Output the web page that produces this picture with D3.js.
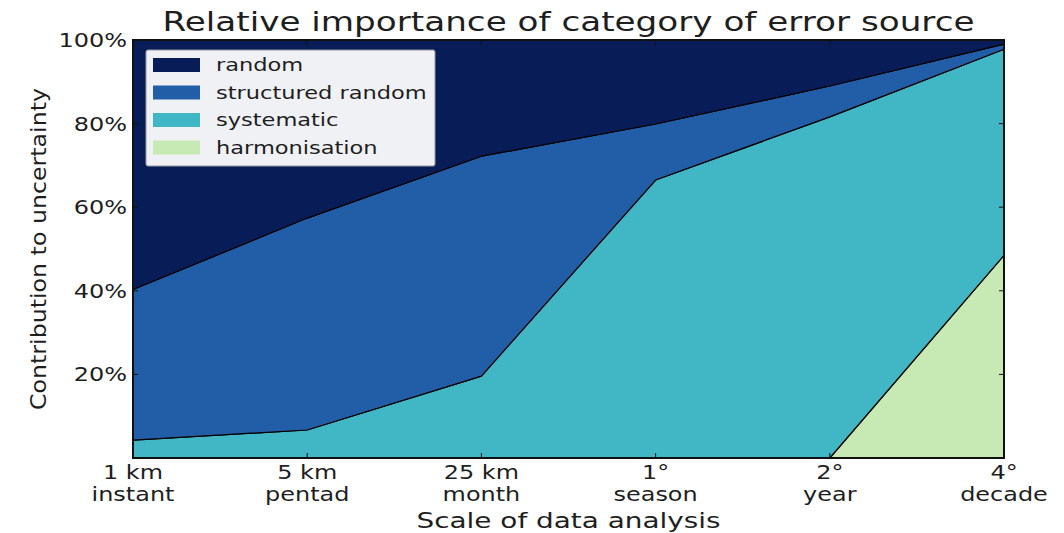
<!DOCTYPE html>
<html>
<head>
<meta charset="utf-8">
<script src="https://cdn.jsdelivr.net/npm/d3@7"></script>
<style>
  body { margin: 0; background: #fff; }
  svg text { font-family: "DejaVu Sans", sans-serif; fill: #1e1e1e; }
</style>
</head>
<body>
<svg id="graphe" width="1064" height="533"></svg>
<script>
// Données (en %)
const echelles = ["1 km", "5 km", "25 km", "1°", "2°", "4°"]
const periodes = ["instant", "pentad", "month", "season", "year", "decade"]
const harmonisation = [0, 0, 0, 0, 0, 48.5]
const systematique = [4.3, 6.7, 19.6, 66.5, 81.6, 49.3]
const aleatoireStructure = [36.0, 50.7, 52.6, 13.4, 7.4, 1.2]
const aleatoire = [59.7, 42.6, 27.8, 20.1, 11.0, 1.0]
const ticksY = [20, 40, 60, 80, 100]

const series = [
    { nom: "harmonisation", valeurs: harmonisation, couleur: "#c7e9b4" },
    { nom: "systematic", valeurs: systematique, couleur: "#41b6c4" },
    { nom: "structured random", valeurs: aleatoireStructure, couleur: "#225ea8" },
    { nom: "random", valeurs: aleatoire, couleur: "#081d58" }
]

const marge = { gauche: 133, droite: 1004, haut: 40, bas: 458 }
const etirement = 1.2 // le texte de l'image d'origine est étiré horizontalement
const svg = d3.select("#graphe")

const x = d3.scaleLinear().domain([0, echelles.length - 1]).range([marge.gauche, marge.droite])
const y = d3.scaleLinear().domain([0, 100]).range([marge.bas, marge.haut])

// petit utilitaire pour poser un texte étiré
function texte(parent, px, py, contenu, taille, ancre, sx){
    return parent.append("text")
        .attr("transform", "translate(" + px + "," + py + ") scale(" + (sx || etirement) + ",1)")
        .attr("text-anchor", ancre)
        .style("font-size", taille + "px")
        .text(contenu)
}

// Empilement
const table = echelles.map((e, i) => {
    const ligne = { i: i }
    series.forEach(s => { ligne[s.nom] = s.valeurs[i] })
    return ligne
})
const pile = d3.stack().keys(series.map(s => s.nom))(table)

const aire = d3.area()
    .x(d => x(d.data.i))
    .y0(d => y(d[0]))
    .y1(d => y(d[1]))

svg.selectAll("path.couche")
    .data(pile)
    .enter().append("path")
    .attr("class", "couche")
    .attr("d", aire)
    .attr("fill", (d, i) => series[i].couleur)
    .attr("stroke", "#000")
    .attr("stroke-width", 1.2)
    .attr("stroke-linejoin", "round")

// Cadre
svg.append("rect")
    .attr("x", marge.gauche).attr("y", marge.haut)
    .attr("width", marge.droite - marge.gauche)
    .attr("height", marge.bas - marge.haut)
    .attr("fill", "none").attr("stroke", "#111").attr("stroke-width", 2)

// Axe Y
const axeY = svg.append("g")
ticksY.forEach(t => {
    axeY.append("line")
        .attr("x1", marge.gauche).attr("x2", marge.gauche + 5)
        .attr("y1", y(t)).attr("y2", y(t))
        .attr("stroke", "#111")
    axeY.append("line")
        .attr("x1", marge.droite - 5).attr("x2", marge.droite)
        .attr("y1", y(t)).attr("y2", y(t))
        .attr("stroke", "#111")
    texte(axeY, marge.gauche - 6, y(t) + 7, t + "%", 20, "end")
})

// Axe X : échelle spatiale puis temporelle, sur deux lignes
const axeX = svg.append("g")
echelles.forEach((e, i) => {
    axeX.append("line")
        .attr("x1", x(i)).attr("x2", x(i))
        .attr("y1", marge.bas).attr("y2", marge.bas - 5)
        .attr("stroke", "#111")
    axeX.append("line")
        .attr("x1", x(i)).attr("x2", x(i))
        .attr("y1", marge.haut).attr("y2", marge.haut + 5)
        .attr("stroke", "#111")
    texte(axeX, x(i), marge.bas + 21, e, 19, "middle", 1.26)
    texte(axeX, x(i), marge.bas + 43, periodes[i], 19, "middle", 1.26)
})

// Titres
svg.append("text")
    .attr("x", (marge.gauche + marge.droite) / 2).attr("y", 31)
    .attr("text-anchor", "middle")
    .attr("textLength", 812).attr("lengthAdjust", "spacingAndGlyphs")
    .style("font-size", "26px")
    .text("Relative importance of category of error source")
svg.append("text")
    .attr("x", (marge.gauche + marge.droite) / 2).attr("y", 528)
    .attr("text-anchor", "middle")
    .attr("textLength", 304).attr("lengthAdjust", "spacingAndGlyphs")
    .style("font-size", "21px")
    .text("Scale of data analysis")
svg.append("text")
    .attr("transform", "translate(46," + ((marge.haut + marge.bas) / 2) + ") rotate(-90)")
    .attr("text-anchor", "middle")
    .attr("textLength", 322).attr("lengthAdjust", "spacingAndGlyphs")
    .style("font-size", "21px")
    .text("Contribution to uncertainty")

// Légende
const legende = svg.append("g")
legende.append("rect")
    .attr("x", 146).attr("y", 50).attr("width", 289).attr("height", 116)
    .attr("rx", 2)
    .attr("fill", "#f0f1f5").attr("stroke", "#999").attr("stroke-width", 1)
const ordreLegende = series.slice().reverse()
ordreLegende.forEach((s, i) => {
    legende.append("rect")
        .attr("x", 153).attr("y", 58 + i * 27.5)
        .attr("width", 47).attr("height", 14)
        .attr("fill", s.couleur)
    texte(legende, 216, 71 + i * 27.5, s.nom, 18, "start", 1.25)
})
</script>
</body>
</html>
